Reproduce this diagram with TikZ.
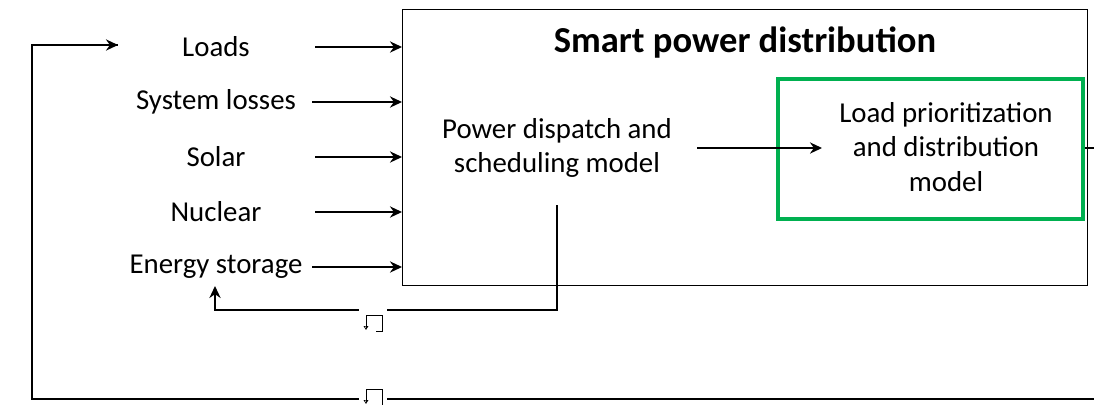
\documentclass[tikz,border=0pt]{standalone}
\usepackage{fontspec}
\setmainfont{Carlito}
\usepackage{xcolor}
\usetikzlibrary{arrows.meta,positioning,calc}
\definecolor{modelgreen}{HTML}{00B050}
\tikzset{
  label/.style={
    align=center,
    inner sep=1pt,
    font=\fontsize{20.5}{24.8}\selectfont
  },
  title/.style={
    inner sep=1pt,
    font=\fontsize{26}{30}\selectfont\bfseries
  },
  frame/.style={
    rectangle,
    draw=black,
    line width=1pt
  },
  model/.style={
    rectangle,
    draw=modelgreen,
    line width=2.8pt
  },
  line/.style={-{Stealth[length=3mm,width=2.8mm]}, line width=1.4pt, draw=black},
  feedback/.style={line width=1.4pt, draw=black},
  gapmark/.style={rectangle, fill=white, inner sep=0pt, minimum width=0.7cm, minimum height=0.55cm}
}

\begin{document}
\begin{tikzpicture}[x=0.025cm, y=-0.025cm]
  \useasboundingbox (0,0) rectangle (1094,404);

  % main box and green sub-model
  \node[frame, minimum width=17.12cm, minimum height=6.9cm, anchor=north west] (spd) at (402,9) {};
  \node[title] (spdtitle) at (745,43) {Smart power distribution};
  \node[model, minimum width=7.62cm, minimum height=3.5cm, anchor=north west] (lpd) at (776,77) {};
  \node[label] (lpdtext) at (946,147) {Load prioritization\\and distribution\\model};
  \node[label] (pds) at (557,148) {Power dispatch and\\scheduling model};

  % inputs
  \node[label] (loads) at (216,47) {Loads};
  \node[label] (losses) at (216,102) {System losses};
  \node[label] (solar) at (216,157) {Solar};
  \node[label] (nuclear) at (216,212) {Nuclear};
  \node[label] (storage) at (216,267) {Energy storage};

  \coordinate (inA) at (315,47);
  \coordinate (inB) at (312,102);
  \coordinate (inC) at (315,157);
  \coordinate (inD) at (315,212);
  \coordinate (inE) at (312,267);
  \draw[line] (inA) -- (inA -| spd.west);
  \draw[line] (inB) -- (inB -| spd.west);
  \draw[line] (inC) -- (inC -| spd.west);
  \draw[line] (inD) -- (inD -| spd.west);
  \draw[line] (inE) -- (inE -| spd.west);

  % dispatch to prioritization
  \coordinate (pdsout) at (697,148);
  \coordinate (lpdin) at (822,148);
  \draw[line] (pdsout) -- (lpdin);

  % feedback to storage
  \coordinate (pdsbot) at (557,205);
  \coordinate (storin) at (215,286);
  \draw[line] (pdsbot) |- (215,310) -- (storin);

  % feedback to loads
  \coordinate (retR) at (1120,148);
  \coordinate (loadsin) at (118,45);
  \draw[feedback] (lpd.east |- retR) -- (retR) |- (32,399) |- (loadsin);
  \draw[line] (32,45) -- (loadsin);

  % anchor marks on the connectors
  \node[gapmark] (gapA) at (373,318) {};
  \node[gapmark] (gapB) at (373,396) {};
  \foreach \g/\y in {gapA/315, gapB/389} {
    \draw[line width=0.6pt] (366,\y+13) -- (366,\y) -- (382,\y) -- (382,\y+16) -- (376,\y+16);
    \draw[line width=0.5pt, -{Triangle[open,length=1mm,width=1.2mm]}] (366,\y+10) -- (366,\y+15);
  }
\end{tikzpicture}
\end{document}
